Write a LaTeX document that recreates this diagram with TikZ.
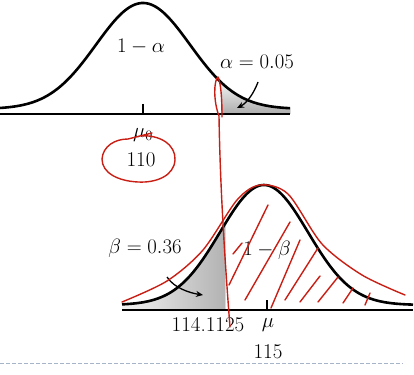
\documentclass[tikz,border=0pt]{standalone}
\usepackage{amsmath}
\usepackage{xcolor}
\usepackage{tikz}
\usetikzlibrary{arrows.meta}

\definecolor{pen}{RGB}{200,30,20}
\definecolor{rule}{RGB}{165,180,200}

\begin{document}
\begin{tikzpicture}[x=1pt,y=-1pt]
	\tikzstyle{every node}+=[inner sep=0pt, font=\fontsize{21}{25}\selectfont]
	\tikzstyle{curve}=[black, line width=2.6pt]
	\tikzstyle{axis}=[black, line width=1.6pt]
	\tikzstyle{ink}=[pen, line width=1.4pt, line cap=round, line join=round]
	\tikzstyle{pointer}=[black, line width=1.3pt, -{Stealth[length=7pt,width=6pt]}]
	\useasboundingbox (0,0) rectangle (414,374);
	% null hypothesis, mu0 = 110
	\fill [top color=gray!10, bottom color=gray!65] (221,114) -- plot[domain=221:290,samples=40] (\x,{109-106*exp(-((\x-143)/47)^2/2)}) -- (290,114) -- cycle;
	\draw [axis] (0,114) -- (290,114);
	\draw [axis] (143,104) -- (143,114);
	\draw [curve] plot[domain=0:290,samples=120] (\x,{109-106*exp(-((\x-143)/47)^2/2)});
	\node (onealpha) at (141,47) {$1-\alpha$};
	\node (alpha) at (257,62) {$\alpha=0.05$};
	\node (muzero) at (143,135) {$\mu_0$};
	\node (ten) at (141,160) {110};
	\coordinate (atail) at (258,82);
	\coordinate (ahead) at (237,108);
	\draw [pointer] (atail) .. controls (254,93) and (247,103) .. (ahead);
	% alternative, mu = 115
	\fill [left color=gray!10, right color=gray!60] (122,310) -- plot[domain=122:225,samples=60] (\x,{305-120*exp(-((\x-264)/44)^2/2)}) -- (225,310) -- cycle;
	\draw [axis] (122,310) -- (413,310);
	\draw [axis] (267,300) -- (267,310);
	\draw [curve] plot[domain=122:413,samples=120] (\x,{305-120*exp(-((\x-264)/44)^2/2)});
	\node (beta) at (145,248) {$\beta=0.36$};
	\node (onebeta) at (267,250) {$1-\beta$};
	\node (crit) at (208,325) {114.1125};
	\node (mu) at (268,325) {$\mu$};
	\node (fifteen) at (268,352) {115};
	\coordinate (btail) at (167,277);
	\coordinate (bhead) at (203,295);
	\draw [pointer] (btail) .. controls (174,288) and (190,293) .. (bhead);
	% red pen
	\draw [ink] (139,136) .. controls (160,134) and (176,145) .. (175,160) .. controls (174,176) and (156,183) .. (138,182) .. controls (118,181) and (102,173) .. (102,159) .. controls (103,146) and (115,139) .. (128,139) -- (152,133);
	\draw [ink] (222,117) .. controls (222,100) and (221,83) .. (218,77) .. controls (214,80) and (213,100) .. (219,116) .. controls (220,180) and (224,250) .. (230,327);
	\draw [ink] plot[smooth] coordinates {(122,302) (167,281) (203,250) (237,200) (260,185) (288,194) (322,244) (362,275) (405,295)};
	\foreach \a/\b/\c/\d in {229/285/268/205, 233/254/242/243, 245/300/290/222, 271/308/300/240, 285/300/318/248, 300/302/320/276, 318/302/338/277, 343/303/353/288, 365/305/370/293}
		\draw [ink] (\a,\b) -- (\c,\d);
	% page edge
	\draw [rule, line width=0.8pt, dash pattern=on 4pt off 2pt] (0,363) -- (403,363);
\end{tikzpicture}
\end{document}
